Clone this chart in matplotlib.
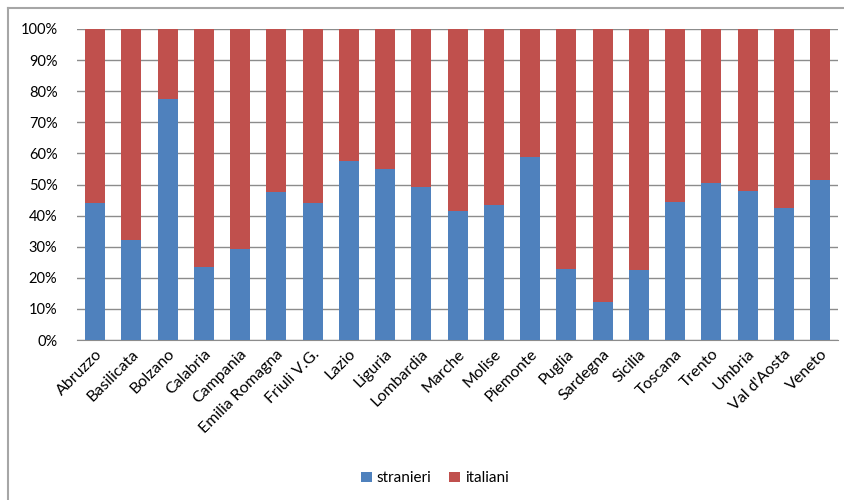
import matplotlib.pyplot as plt
from matplotlib.lines import Line2D
from matplotlib.ticker import PercentFormatter
import numpy as np

regioni = ["Abruzzo", "Basilicata", "Bolzano", "Calabria", "Campania",
           "Emilia Romagna", "Friuli V.G.", "Lazio", "Liguria", "Lombardia",
           "Marche", "Molise", "Piemonte", "Puglia", "Sardegna", "Sicilia",
           "Toscana", "Trento", "Umbria", "Val d'Aosta", "Veneto"]
stranieri = [44.2, 32.2, 77.6, 23.4, 29.1, 47.7, 44.0, 57.5, 54.9, 49.2,
             41.4, 43.3, 58.9, 22.7, 12.3, 22.5, 44.4, 50.6, 48.0, 42.4, 51.6]
italiani = [100 - s for s in stranieri]
yticks = [0, 10, 20, 30, 40, 50, 60, 70, 80, 90, 100]

blu = "#4F81BD"
rosso = "#C0504D"
grigio = "#8C8C8C"

plt.rcParams['font.family'] = ['Lato', 'DejaVu Sans']

fig = plt.figure(figsize=(8.45, 5), dpi=100)
ax = fig.add_axes([0.091, 0.32, 0.901, 0.622])

x = np.arange(len(regioni))
ax.bar(x, stranieri, width=0.55, color=blu, label="stranieri", zorder=3)
ax.bar(x, italiani, width=0.55, bottom=stranieri, color=rosso, label="italiani", zorder=3)

ax.set_xlim(-0.5, len(regioni) - 0.5)
ax.set_ylim(0, 100)
ax.set_yticks(yticks)
ax.yaxis.set_major_formatter(PercentFormatter(decimals=0))
ax.grid(axis="y", color=grigio, linewidth=1, zorder=0)
for s in ["top", "right", "left"]:
    ax.spines[s].set_visible(False)
ax.spines["bottom"].set_color(grigio)
ax.tick_params(axis="y", length=0, labelsize=10.5, pad=14)
ax.tick_params(axis="x", length=0, labelsize=11.5, pad=5)
ax.set_xticks(x)
ax.set_xticklabels(regioni, rotation=45, ha="right", rotation_mode="anchor")

ax.legend(loc="center", bbox_to_anchor=(0.47, -0.445), ncol=2, frameon=False,
          fontsize=11, handlelength=0.7, handleheight=0.7, handletextpad=0.3,
          columnspacing=1.2)

# cornice del grafico
fig.add_artist(Line2D([8 / 845, 8 / 845], [0, 1 - 8 / 500], color="#A6A6A6", linewidth=1.5))
fig.add_artist(Line2D([8 / 845, 1], [1 - 8 / 500, 1 - 8 / 500], color="#A6A6A6", linewidth=1.5))

fig.savefig("out.png", dpi=100)
